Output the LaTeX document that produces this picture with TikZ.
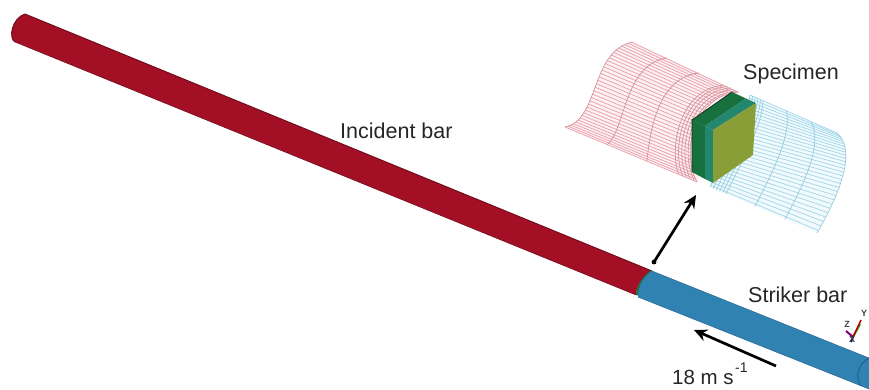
\documentclass[tikz,border=0pt]{standalone}
\usepackage{fontspec}
\setmainfont{Liberation Sans}
\usetikzlibrary{arrows.meta}
\definecolor{barred}{HTML}{A30F25}
\definecolor{bardark}{HTML}{6E0A1A}
\definecolor{barblue}{HTML}{3082B3}
\definecolor{bluedark}{HTML}{1F5F8A}
\definecolor{meshred}{HTML}{EBA0AC}
\definecolor{meshredd}{HTML}{D5929C}
\definecolor{meshblue}{HTML}{A2D8EC}
\definecolor{meshblued}{HTML}{97CCDF}
\definecolor{specolive}{HTML}{8A9E38}
\definecolor{specgreen}{HTML}{17703E}
\definecolor{specteal}{HTML}{23866F}
\tikzset{
  lbl/.style={anchor=base west,inner sep=0pt,font=\fontsize{21.5}{24}\selectfont,text=black!85},
  axislbl/.style={inner sep=0pt,font=\fontsize{9}{9}\selectfont\bfseries,text=black!75},
  pointer/.style={line width=2.7pt,draw=black,-{Stealth[length=13pt,width=12pt]}},
  mr/.style={draw=meshred,line width=.75pt},
  mrc/.style={draw=meshredd,line width=.7pt},
  mb/.style={draw=meshblue,line width=.75pt},
  mbc/.style={draw=meshblued,line width=.7pt}
}
\begin{document}
\begin{tikzpicture}[x=1pt,y=-1pt,
  declare function={
    bz(\u,\a,\b,\c,\d)=(1-\u)^3*\a+3*(1-\u)^2*\u*\b+3*(1-\u)*\u^2*\c+\u^3*\d;
    lin(\u,\a,\b)=(1-\u)*\a+\u*\b;
  }]
\useasboundingbox (0,0) rectangle (869,390);
% pale tint under meshes
\fill[meshred!14] (565,127) .. controls (600,120) and (590,50) .. (633,42) -- (739,92) -- (720,130) -- (697,182) -- cycle;
\fill[meshblue!14] (750,95) -- (837,133) .. controls (856,150) and (842,190) .. (817,233) -- (710,187) -- cycle;
% red mesh
\foreach \t in {0,0.03,...,1.001}{
  \draw[mr] ({bz(\t,565,600,590,633)},{bz(\t,127,120,50,42)}) -- ({bz(\t,697,680,695,739)},{bz(\t,182,150,95,92)});
}
\foreach \s in {0.32,0.62,0.86,0.89,0.92,0.95,0.98,1}{
  \draw[mrc] ({lin(\s,565,697)},{lin(\s,127,182)}) .. controls ({lin(\s,600,680)},{lin(\s,120,150)}) and ({lin(\s,590,695)},{lin(\s,50,95)}) .. ({lin(\s,633,739)},{lin(\s,42,92)});
}
\draw[mrc] (565,127) .. controls (600,120) and (590,50) .. (633,42);
% blue mesh
\foreach \t in {0,0.035,...,1.001}{
  \draw[mb] ({bz(\t,750,745,722,710)},{bz(\t,95,125,160,187)}) -- ({bz(\t,837,856,842,817)},{bz(\t,133,150,190,233)});
}
\foreach \s in {0,0.03,0.06,0.09,0.12,0.15,0.42,0.7,1}{
  \draw[mbc] ({lin(\s,750,837)},{lin(\s,95,133)}) .. controls ({lin(\s,745,856)},{lin(\s,125,150)}) and ({lin(\s,722,842)},{lin(\s,160,190)}) .. ({lin(\s,710,817)},{lin(\s,187,233)});
}
% specimen
\fill[specgreen] (692,120) -- (705,126) -- (705,179) -- (692,172) -- cycle;
\fill[specteal] (705,126) -- (713,130) -- (713,183) -- (705,179) -- cycle;
\fill[specgreen] (692,120) -- (732,92) -- (746,98.5) -- (705,126) -- cycle;
\fill[specteal] (705,126) -- (746,98.5) -- (756,103) -- (713,130) -- cycle;
\fill[specolive] (713,130) -- (756,103) -- (753,155) -- (713,183) -- cycle;
\draw[black!55!specgreen,line width=.8pt] (692,172) -- (692,120) -- (732,92);
% bars
\fill[barred] (25,14) -- (652,271) .. controls (642,277) and (636,287) .. (636,295) -- (15,42) .. controls (8,38) and (12,18) .. (25,14) -- cycle;
\draw[bardark,line width=.9pt] (15,42) .. controls (8,38) and (12,18) .. (25,14) -- (652,271);
\draw[bardark,line width=.5pt] (15,42) -- (636,295);
\fill[specgreen] (651,270) .. controls (642,277) and (636,287) .. (636,295) -- (642,297) -- (655,275) -- cycle;
\fill[barblue] (652,271) -- (869,358) -- (869,389) -- (638,297) .. controls (638,285) and (644,276) .. (652,271) -- cycle;
\draw[bluedark,line width=.9pt] (869,358) .. controls (857,365) and (855,378) .. (861,386);
\draw[bluedark,line width=.4pt] (652,271) -- (869,358);
\draw[bluedark,line width=.4pt] (638,297) -- (869,389);
% labels
\node[lbl] (inc) at (340,139) {Incident bar};
\node[lbl] (spec) at (743,80) {Specimen};
\node[lbl] (str) at (748,302) {Striker bar};
\node[lbl,font=\fontsize{20.5}{24}\selectfont] (vel) at (672,384) {18 m s};
\node[lbl,font=\fontsize{14}{16}\selectfont] (velexp) at (735,372) {-1};
% arrows
\coordinate (detailS) at (654,262);
\coordinate (detailE) at (696,195);
\coordinate (velS) at (776,366);
\coordinate (velE) at (694,330);
\fill (detailS) circle (2.4pt);
\draw[pointer] (detailS) -- (detailE);
\draw[pointer] (velS) -- (velE);
% triad
\coordinate (ax0) at (853,337);
\coordinate (axY) at (861,320);
\coordinate (axZ) at (846,331);
\coordinate (axX) at (851,342);
\draw[green!70!black,line width=2pt] (ax0) -- (860,324);
\draw[red!75!black,line width=1.5pt] (ax0) -- (axY);
\draw[blue!60!black,line width=2pt] (ax0) -- (axX);
\draw[violet,line width=2pt] (ax0) -- (axZ);
\node[axislbl] (lz) at (847,324) {Z};
\node[axislbl] (ly) at (864,313) {Y};
\node[axislbl] (lx) at (852,339) {X};
\end{tikzpicture}
\end{document}
